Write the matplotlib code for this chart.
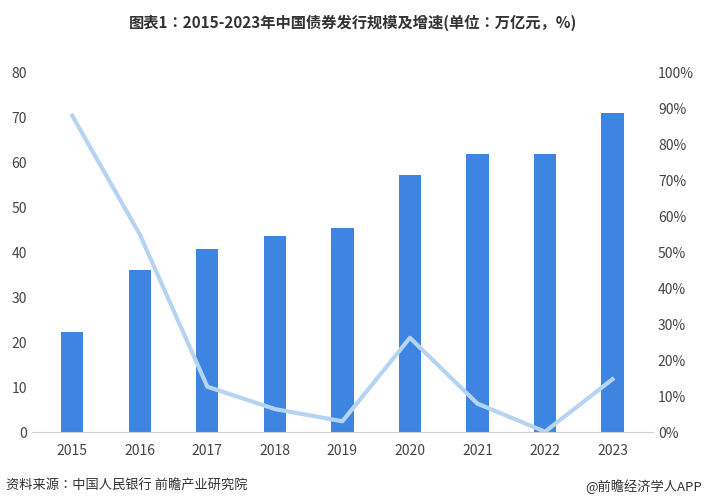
import matplotlib.pyplot as plt

plt.rcParams['font.family'] = ['Noto Sans CJK JP', 'Noto Sans CJK SC', 'DejaVu Sans']

years = ['2015', '2016', '2017', '2018', '2019', '2020', '2021', '2022', '2023']
scale = [22.3, 36.0, 40.7, 43.6, 45.4, 57.3, 61.9, 61.9, 71.0]
growth = [88.0, 55.0, 12.7, 6.5, 3.1, 26.3, 8.0, 0.2, 14.8]

fig = plt.figure(figsize=(7.06, 5.04), dpi=100)
ax = fig.add_axes([0.045, 0.142, 0.88, 0.714])
ax2 = ax.twinx()

x = range(len(years))
ax.bar(x, scale, width=0.33, color='#3d85e0', zorder=2)
ax2.plot(x, growth, color='#b6d4f2', linewidth=3, zorder=3)

ax.set_ylim(0, 80)
ax.set_yticks(range(0, 81, 10))
ax2.set_ylim(0, 100)
ax2.set_yticks(range(0, 101, 10))
ax2.set_yticklabels([f'{v}%' for v in range(0, 101, 10)])
ax.set_xticks(list(x))
ax.set_xticklabels(years)
ax.set_xlim(-0.6, 8.6)

for a in (ax, ax2):
    for s in a.spines.values():
        s.set_visible(False)
    a.tick_params(length=0, labelsize=10, colors='#444444')
ax.spines['bottom'].set_visible(True)
ax.spines['bottom'].set_color('#d0d0d0')
ax.tick_params(axis='x', pad=8)

fig.text(0.5, 0.955, '图表1：2015-2023年中国债券发行规模及增速(单位：万亿元，%)',
         ha='center', va='center', fontsize=11, fontweight='bold', color='#333333')
fig.text(0.008, 0.035, '资料来源：中国人民银行 前瞻产业研究院', ha='left', va='center',
         fontsize=9.5, color='#333333')
fig.text(0.995, 0.035, '@前瞻经济学人APP', ha='right', va='center',
         fontsize=9.5, color='#333333')

fig.savefig('out.png', dpi=100)
